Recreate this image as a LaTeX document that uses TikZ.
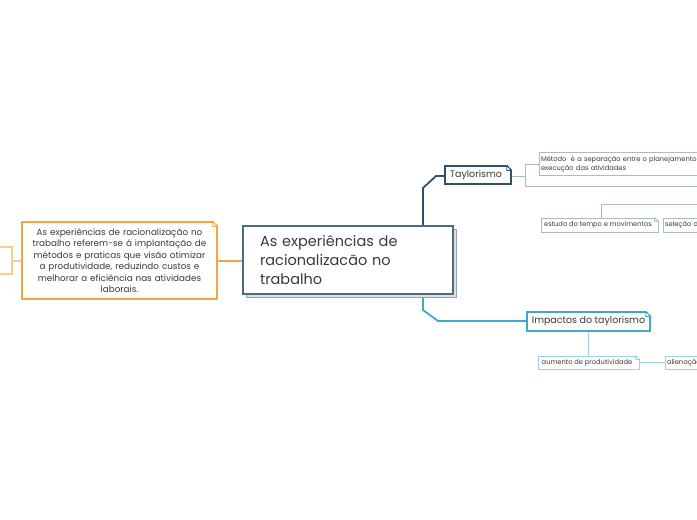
\documentclass[tikz,border=0pt]{standalone}
\usepackage{fontspec}
\setmainfont{Poppins}
\usetikzlibrary{calc}
\definecolor{mainc}{HTML}{4C6B7D}
\definecolor{taylc}{HTML}{2F5169}
\definecolor{taylsub}{HTML}{A8BCC8}
\definecolor{impc}{HTML}{3FAAC7}
\definecolor{impsub}{HTML}{9AD4E4}
\definecolor{orc}{HTML}{F8A547}
\definecolor{orlight}{HTML}{FBCB90}
\definecolor{txt}{HTML}{3A3A3A}
\newcommand\fcorner[3]{%
  \fill[white] ($(#1.north east)+(-#3,-1.2)$) -- ($(#1.north east)+(1.2,-1.2)$) -- ($(#1.north east)+(1.2,#3)$) -- cycle;
  \draw[#2,line width=0.8pt,line join=round] ($(#1.north east)+(-#3,0)$) -- ($(#1.north east)+(0,#3)$)
     ($(#1.north east)+(-#3,0)$) -- ($(#1.north east)+(-#3,#3)$) -- ($(#1.north east)+(0,#3)$);}
\tikzset{
  every node/.style={text=txt},
  box/.style={draw, fill=white, rectangle, inner sep=0pt},
  tiny/.style={font=\fontsize{6.7}{9.5}\selectfont},
}
\begin{document}
\begin{tikzpicture}[x=1pt,y=-1pt]
\useasboundingbox (0,0) rectangle (697,520);
\fill[white] (0,0) rectangle (697,520);
\clip (0,0) rectangle (697,520);

% connectors
\draw[orc,line width=1.8pt] (217,261) -- (243,261);
\draw[orlight,line width=1.8pt] (12,261) -- (22,261);
\draw[taylc,line width=1.8pt] (423,226) -- (423,188) -- (436,176) -- (445,176);
\draw[impc,line width=1.8pt] (423,294) -- (423,310) -- (438,321) -- (527,321);
\draw[taylsub,line width=0.9pt] (511,176) -- (525,176) (525,164) -- (525,186) (525,164) -- (539,164) (525,186) -- (700,186);
\draw[taylsub,line width=0.9pt] (601,218) -- (601,204) -- (700,204);
\draw[impsub,line width=0.9pt] (588,331) -- (588,356) (639,362) -- (665,362);

% left partial box
\node[box,draw=orlight,line width=1.2pt,minimum width=40,minimum height=27] (lp) at (-8,260.5) {};

% orange description
\node[box,draw=orc,line width=1.3pt,minimum width=195,minimum height=77,text width=190,align=center,
  font=\fontsize{8.8}{11.5}\selectfont] (desc) at (119.5,260.5)
  {As experiências de racionalização no\\ trabalho referem-se á implantação de\\ métodos e praticas que visão otimizar\\ a produtividade, reduzindo custos e\\ melhorar a eficiência nas atividades\\ laborais.};
\fcorner{desc}{orc}{5}

% central node
\fill[gray!25] (246,229) rectangle (456,297);
\draw[mainc!60,line width=0.8pt] (246,229) rectangle (456,297);
\node[box,draw=mainc,line width=1.5pt,minimum width=210,minimum height=68,text width=176,align=left,
  font=\fontsize{14.5}{19}\selectfont] (main) at (348,260)
  {As experiências de\\ racionalizacão no\\ trabalho};

% Taylorismo
\node[box,draw=taylc,line width=1.3pt,minimum width=66,minimum height=18,
  font=\fontsize{9.5}{11}\selectfont] (tay) at (478,175) {\hspace*{-4pt}Taylorismo};
\fcorner{tay}{taylc}{5}

\node[box,draw=taylsub,line width=0.9pt,minimum width=220,minimum height=23,text width=216,align=left,tiny] (met) at (649,164)
  {Método\ \ é a separação entre o planejamento e\\ execução das atividades};

\node[box,draw=taylsub,line width=0.9pt,minimum width=117,minimum height=14,tiny] (est) at (599.5,225) {estudo do tempo e movimentos\hspace*{3pt}};
\fcorner{est}{taylsub}{4}
\node[box,draw=taylsub,line width=0.9pt,minimum width=100,minimum height=14,text width=96,align=left,tiny] (sel) at (713,225) {seleção de};

% Impactos
\node[box,draw=impc,line width=1.3pt,minimum width=123,minimum height=19,
  font=\fontsize{9.5}{11}\selectfont] (imp) at (588.5,321.5) {Impactos do taylorismo};
\fcorner{imp}{impc}{5}

\node[box,draw=impsub,line width=0.9pt,minimum width=101,minimum height=13,tiny] (aum) at (588.5,362.5) {aumento de produtividade\hspace*{3pt}};
\fcorner{aum}{impsub}{4}
\node[box,draw=impsub,line width=0.9pt,minimum width=80,minimum height=13,text width=76,align=left,tiny] (ali) at (705,362.5) {alienação};
\end{tikzpicture}
\end{document}
